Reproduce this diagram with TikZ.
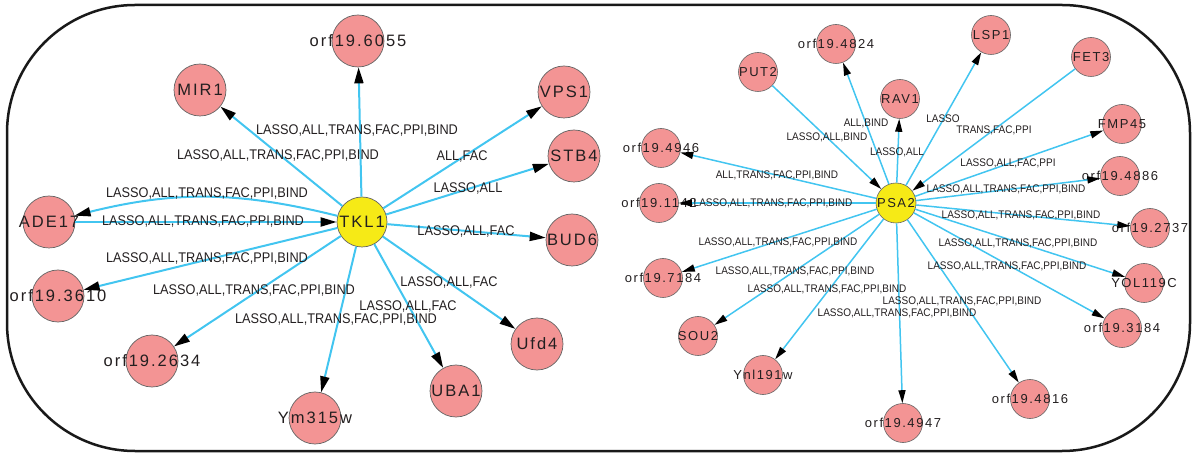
\documentclass[tikz,border=0pt]{standalone}
\usepackage{fontspec}
\setmainfont{Liberation Sans}
\newfontfamily\nodefont[LetterSpace=12]{Liberation Sans}
\newfontfamily\edgefont[FakeStretch=0.91]{Liberation Sans}
\usetikzlibrary{arrows.meta}
\definecolor{edgecyan}{RGB}{66,197,240}
\definecolor{nodepink}{RGB}{243,148,148}
\definecolor{nodeyellow}{RGB}{246,234,22}
\definecolor{txt}{RGB}{35,31,32}
\definecolor{rim}{RGB}{100,100,100}
\tikzset{
  bignode/.style={circle, draw=rim, line width=0.7pt, fill=nodepink, minimum size=52pt, inner sep=0pt},
  hubL/.style={bignode, fill=nodeyellow, minimum size=50pt},
  smallnode/.style={circle, draw=rim, line width=0.6pt, fill=nodepink, minimum size=39pt, inner sep=0pt},
  hubR/.style={smallnode, fill=nodeyellow, minimum size=40pt},
  nlblL/.style={font=\nodefont\fontsize{16.5}{18}\selectfont, text=txt, inner sep=0pt},
  nlblR/.style={font=\nodefont\fontsize{13}{15}\selectfont, text=txt, inner sep=0pt},
  elblL/.style={font=\edgefont\fontsize{14}{16}\selectfont, text=txt, inner sep=0pt},
  elblR/.style={font=\edgefont\fontsize{11}{13}\selectfont, text=txt, inner sep=0pt},
  edgeL/.style={draw=edgecyan, line width=2pt, -{Triangle[length=16pt,width=9pt,color=black]}},
  edgeR/.style={draw=edgecyan, line width=1.5pt, -{Triangle[length=13pt,width=7pt,color=black]}},
  frame/.style={draw=black!90, line width=2.5pt, rounded corners=128pt}
}
\begin{document}
\begin{tikzpicture}[x=1pt,y=-1pt]
\useasboundingbox (0,0) rectangle (1192,454);
\draw[frame] (7,5) rectangle (1190,451);
% ---------- left cluster nodes
\node[hubL,label={[nlblL]center:TKL1}] (TKL1) at (362,222) {};
\node[bignode,label={[nlblL]center:orf19.6055}] (o6055) at (358,41) {};
\node[bignode,label={[nlblL]center:MIR1}] (MIR1) at (200,90) {};
\node[bignode,label={[nlblL]center:VPS1}] (VPS1) at (564,92) {};
\node[bignode,label={[nlblL]center:STB4}] (STB4) at (574,156) {};
\node[bignode,label={[nlblL]center:BUD6}] (BUD6) at (572,240) {};
\node[bignode,label={[nlblL]center:Ufd4}] (Ufd4) at (537,344) {};
\node[bignode,label={[nlblL]center:UBA1}] (UBA1) at (456,391) {};
\node[bignode,label={[nlblL]center:Ym315w}] (Ym315w) at (315,418) {};
\node[bignode,label={[nlblL]center:orf19.2634}] (o2634) at (152,361) {};
\node[bignode,label={[nlblL]center:orf19.3610}] (o3610) at (58,296) {};
\node[bignode,label={[nlblL]center:ADE17}] (ADE17) at (49,222) {};
% ---------- right cluster nodes
\node[hubR,label={[nlblR]center:PSA2}] (PSA2) at (896,203) {};
\node[smallnode,label={[nlblR]center:orf19.4824}] (o4824) at (836,44) {};
\node[smallnode,label={[nlblR]center:PUT2}] (PUT2) at (758,72) {};
\node[smallnode,label={[nlblR]center:RAV1}] (RAV1) at (900,99) {};
\node[smallnode,label={[nlblR]center:LSP1}] (LSP1) at (991,35) {};
\node[smallnode,label={[nlblR]center:FET3}] (FET3) at (1091,57) {};
\node[smallnode,label={[nlblR]center:FMP45}] (FMP45) at (1122,124) {};
\node[smallnode,label={[nlblR]center:orf19.4886}] (o4886) at (1120,176) {};
\node[smallnode,label={[nlblR]center:orf19.2737}] (o2737) at (1150,228) {};
\node[smallnode,label={[nlblR]center:YOL119C}] (YOL119C) at (1144,283) {};
\node[smallnode,label={[nlblR]center:orf19.3184}] (o3184) at (1122,328) {};
\node[smallnode,label={[nlblR]center:orf19.4816}] (o4816) at (1030,399) {};
\node[smallnode,label={[nlblR]center:orf19.4947}] (o4947) at (903,423) {};
\node[smallnode,label={[nlblR]center:Ynl191w}] (Ynl191w) at (763,375) {};
\node[smallnode,label={[nlblR]center:SOU2}] (SOU2) at (698,336) {};
\node[smallnode,label={[nlblR]center:orf19.7184}] (o7184) at (663,278) {};
\node[smallnode,label={[nlblR]center:orf19.4946}] (o4946) at (661,148) {};
\node[smallnode,label={[nlblR]center:orf19.1142}] (o1142) at (659,203) {};
% ---------- left edges
\draw[edgeL] (TKL1) -- (MIR1);
\draw[edgeL] (TKL1) -- (o6055);
\draw[edgeL] (TKL1) -- (VPS1);
\draw[edgeL] (TKL1) -- (STB4);
\draw[edgeL] (TKL1) -- (BUD6);
\draw[edgeL] (TKL1) -- (Ufd4);
\draw[edgeL] (TKL1) -- (UBA1);
\draw[edgeL] (TKL1) -- (Ym315w);
\draw[edgeL] (TKL1) -- (o2634);
\draw[edgeL] (TKL1) -- (o3610);
\draw[edgeL] (TKL1) to[bend right=14] (ADE17);
\draw[edgeL] (ADE17) -- (TKL1);
% ---------- right edges
\draw[edgeR] (PSA2) -- (o4824);
\draw[edgeR] (PUT2) -- (PSA2);
\draw[edgeR] (PSA2) -- (RAV1);
\draw[edgeR] (PSA2) -- (LSP1);
\draw[edgeR] (FET3) -- (PSA2);
\draw[edgeR] (PSA2) -- (FMP45);
\draw[edgeR] (PSA2) -- (o4886);
\draw[edgeR] (PSA2) -- (o2737);
\draw[edgeR] (PSA2) -- (YOL119C);
\draw[edgeR] (PSA2) -- (o3184);
\draw[edgeR] (PSA2) -- (o4816);
\draw[edgeR] (PSA2) -- (o4947);
\draw[edgeR] (PSA2) -- (Ynl191w);
\draw[edgeR] (PSA2) -- (SOU2);
\draw[edgeR] (PSA2) -- (o7184);
\draw[edgeR] (PSA2) -- (o4946);
\draw[edgeR] (PSA2) -- (o1142);
% ---------- left edge labels
\node[elblL] (lMIR1) at (278,156) {LASSO,ALL,TRANS,FAC,PPI,BIND};
\node[elblL] (l6055) at (357,131) {LASSO,ALL,TRANS,FAC,PPI,BIND};
\node[elblL] (lVPS1) at (462,157) {ALL,FAC};
\node[elblL] (lSTB4) at (468,189) {LASSO,ALL};
\node[elblL] (lBUD6) at (466,232) {LASSO,ALL,FAC};
\node[elblL] (lUfd4) at (449,283) {LASSO,ALL,FAC};
\node[elblL] (lUBA1) at (408,307) {LASSO,ALL,FAC};
\node[elblL] (lYm) at (336,320) {LASSO,ALL,TRANS,FAC,PPI,BIND};
\node[elblL] (l2634) at (254,291) {LASSO,ALL,TRANS,FAC,PPI,BIND};
\node[elblL] (l3610) at (207,259) {LASSO,ALL,TRANS,FAC,PPI,BIND};
\node[elblL] (lADEa) at (207,194) {LASSO,ALL,TRANS,FAC,PPI,BIND};
\node[elblL] (lADEb) at (203,222) {LASSO,ALL,TRANS,FAC,PPI,BIND};
% ---------- right edge labels
\node[elblR] (r4824) at (866,123) {ALL,BIND};
\node[elblR] (rPUT2) at (827,137) {LASSO,ALL,BIND};
\node[elblR] (rRAV1) at (897,152) {LASSO,ALL};
\node[elblR] (rLSP1) at (943,119) {LASSO};
\node[elblR] (rFET3) at (994,130) {TRANS,FAC,PPI};
\node[elblR] (rFMP45) at (1008,163) {LASSO,ALL,FAC,PPI};
\node[elblR] (r4886) at (1006,189) {LASSO,ALL,TRANS,FAC,PPI,BIND};
\node[elblR] (r2737) at (1021,215) {LASSO,ALL,TRANS,FAC,PPI,BIND};
\node[elblR] (rYOL) at (1018,243) {LASSO,ALL,TRANS,FAC,PPI,BIND};
\node[elblR] (r3184) at (1007,266) {LASSO,ALL,TRANS,FAC,PPI,BIND};
\node[elblR] (r4816) at (962,301) {LASSO,ALL,TRANS,FAC,PPI,BIND};
\node[elblR] (r4947) at (897,313) {LASSO,ALL,TRANS,FAC,PPI,BIND};
\node[elblR] (rYnl) at (827,289) {LASSO,ALL,TRANS,FAC,PPI,BIND};
\node[elblR] (rSOU2) at (795,271) {LASSO,ALL,TRANS,FAC,PPI,BIND};
\node[elblR] (r7184) at (778,242) {LASSO,ALL,TRANS,FAC,PPI,BIND};
\node[elblR] (r4946) at (777,175) {ALL,TRANS,FAC,PPI,BIND};
\node[elblR] (r1142) at (773,203) {LASSO,ALL,TRANS,FAC,PPI,BIND};
\end{tikzpicture}
\end{document}
